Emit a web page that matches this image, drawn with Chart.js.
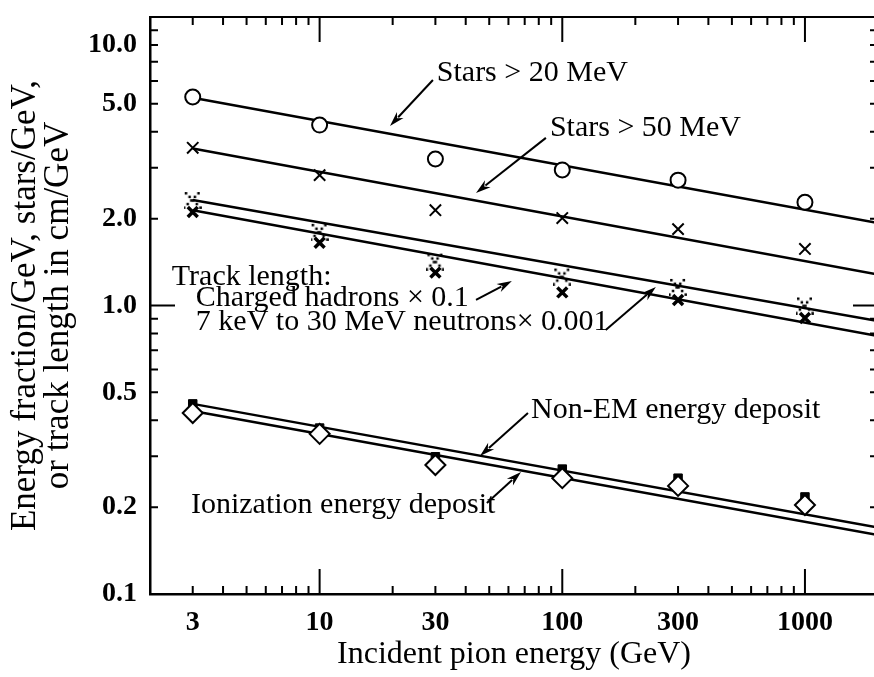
<!DOCTYPE html>
<html>
<head>
<meta charset="utf-8">
<script src="https://cdn.jsdelivr.net/npm/chart.js@4.4.1/dist/chart.umd.min.js"></script>
<style>
  html, body { margin: 0; padding: 0; background: #fff; overflow: hidden; }
  #wrap { width: 890px; height: 677px; }
</style>
</head>
<body>
<div id="wrap"><canvas id="chart" width="890" height="677"></canvas></div>
<script>
// incident pion energies (GeV)
const energies = [3, 10, 30, 100, 300, 1000];

// measured points
const stars20 = [5.28, 4.22, 3.22, 2.95, 2.72, 2.28];
const stars50 = [3.52, 2.83, 2.14, 2.01, 1.84, 1.57];
const neutrons = [2.32, 1.80, 1.42, 1.26, 1.16, 1.00];
const charged = [2.11, 1.65, 1.30, 1.11, 1.045, 0.905];
const nonEm = [0.456, 0.376, 0.299, 0.271, 0.252, 0.217];
const ionization = [0.424, 0.359, 0.280, 0.252, 0.237, 0.2035];

// power-law fits, drawn from 3 GeV to the edge
const fitEnergies = [3, 2000];
const stars20Fit = [5.25, 1.93];
const stars50Fit = [3.5, 1.28];
const neutronsFit = [2.32, 0.884];
const chargedFit = [2.14, 0.784];
const nonEmFit = [0.456, 0.170];
const ionizationFit = [0.4305, 0.160];

// axes
const xTickValues = [2, 3, 4, 5, 6, 7, 8, 9, 10, 20, 30, 40, 50, 60, 70, 80, 90,
                     100, 200, 300, 400, 500, 600, 700, 800, 900, 1000, 2000];
const xLabels = [3, 10, 30, 100, 300, 1000];
const yTickValues = [0.1, 0.2, 0.3, 0.4, 0.5, 0.6, 0.7, 0.8, 0.9,
                     1, 2, 3, 4, 5, 6, 7, 8, 9, 10];
const yLabels = [0.1, 0.2, 0.5, 1, 2, 5, 10];

// annotations in data coordinates [energy, value]
const notes = [
  {text: 'Stars > 20 MeV', at: [30.4, 6.39], from: [29.3, 6.05], to: [19.5, 4.19]},
  {text: 'Stars > 50 MeV', at: [88.9, 4.12], from: [85.6, 3.81], to: [44.1, 2.455]},
  {text: 'Track length:', at: [2.46, 1.256]},
  {text: 'Charged hadrons \u00d7 0.1', at: [3.09, 1.062], from: [44.1, 1.045], to: [62.0, 1.216]},
  {text: '7 keV to 30 MeV neutrons\u00d7 0.001', at: [3.09, 0.877], from: [151, 0.823], to: [243, 1.159]},
  {text: 'Non-EM energy deposit', at: [74.3, 0.4343], from: [72.2, 0.424], to: [45.8, 0.3008]},
  {text: 'Ionization energy deposit', at: [2.95, 0.2035], from: [48.9, 0.2068], to: [67.6, 0.2648]},
];

const serif = "'Liberation Serif', 'DejaVu Serif', serif";
const isDecade = v => Math.abs(Math.log10(v) - Math.round(Math.log10(v))) < 1e-9;
const pts = ys => energies.map((e, i) => ({x: e, y: ys[i]}));
const fit = ys => fitEnergies.map((e, i) => ({x: e, y: ys[i]}));

function dottedCross() {
  const c = document.createElement('canvas');
  c.width = c.height = 18;
  const g = c.getContext('2d');
  g.fillStyle = '#000';
  for (let i = 0; i < 5; i++) {
    const t = 1 + i * 3.6;
    g.fillRect(t, t, 2.5, 2.5);
    g.fillRect(14.5 - t, t, 2.5, 2.5);
  }
  return c;
}

const tickMarks = {
  id: 'tickMarks',
  afterDraw(chart) {
    const {ctx, chartArea: a, scales: {x, y}} = chart;
    ctx.save();
    ctx.strokeStyle = '#000';
    ctx.lineWidth = 2;
    ctx.beginPath();
    ctx.moveTo(a.left, a.top);
    ctx.lineTo(a.right, a.top);
    ctx.lineTo(a.right, a.bottom);
    xTickValues.forEach(v => {
      const px = x.getPixelForValue(v);
      const len = isDecade(v) ? 25 : 8;
      ctx.moveTo(px, a.bottom); ctx.lineTo(px, a.bottom - len);
      ctx.moveTo(px, a.top); ctx.lineTo(px, a.top + len);
    });
    yTickValues.forEach(v => {
      const py = y.getPixelForValue(v);
      const len = isDecade(v) ? 25 : 8;
      ctx.moveTo(a.left, py); ctx.lineTo(a.left + len, py);
      ctx.moveTo(a.right, py); ctx.lineTo(a.right - len, py);
    });
    ctx.stroke();
    // top label sits a little below the corner in the original
    ctx.fillStyle = '#000';
    ctx.font = 'bold 28px ' + serif;
    ctx.textAlign = 'right';
    ctx.textBaseline = 'middle';
    ctx.fillText('10.0', a.left - 13, y.getPixelForValue(10) + 28);
    ctx.restore();
  }
};

const annotations = {
  id: 'annotations',
  afterDatasetsDraw(chart) {
    const {ctx, scales: {x, y}} = chart;
    const px = p => [x.getPixelForValue(p[0]), y.getPixelForValue(p[1])];
    ctx.save();
    ctx.fillStyle = '#000';
    ctx.strokeStyle = '#000';
    ctx.font = '30px ' + serif;
    ctx.textAlign = 'left';
    ctx.textBaseline = 'middle';
    notes.forEach(n => {
      const [tx, ty] = px(n.at);
      ctx.fillText(n.text, tx, ty);
      if (!n.from) return;
      const [x0, y0] = px(n.from);
      const [x1, y1] = px(n.to);
      const ang = Math.atan2(y1 - y0, x1 - x0);
      const head = 15, half = 4.5;
      ctx.lineWidth = 2;
      ctx.beginPath();
      ctx.moveTo(x0, y0);
      ctx.lineTo(x1 - Math.cos(ang) * head * 0.8, y1 - Math.sin(ang) * head * 0.8);
      ctx.stroke();
      ctx.beginPath();
      ctx.moveTo(x1, y1);
      ctx.lineTo(x1 - Math.cos(ang) * head - Math.sin(ang) * half, y1 - Math.sin(ang) * head + Math.cos(ang) * half);
      ctx.lineTo(x1 - Math.cos(ang) * head * 0.7, y1 - Math.sin(ang) * head * 0.7);
      ctx.lineTo(x1 - Math.cos(ang) * head + Math.sin(ang) * half, y1 - Math.sin(ang) * head - Math.cos(ang) * half);
      ctx.closePath();
      ctx.fill();
    });
    ctx.restore();
  }
};

const fitStyle = {showLine: true, pointRadius: 0, borderColor: '#000', borderWidth: 2.5, order: 10};

new Chart(document.getElementById('chart'), {
  type: 'scatter',
  data: {
    datasets: [
      {label: 'Stars > 20 MeV fit', data: fit(stars20Fit), ...fitStyle},
      {label: 'Stars > 50 MeV fit', data: fit(stars50Fit), ...fitStyle},
      {label: 'Neutrons fit', data: fit(neutronsFit), ...fitStyle},
      {label: 'Charged hadrons fit', data: fit(chargedFit), ...fitStyle},
      {label: 'Non-EM fit', data: fit(nonEmFit), ...fitStyle},
      {label: 'Ionization fit', data: fit(ionizationFit), ...fitStyle},
      {label: 'Stars > 20 MeV', data: pts(stars20), pointStyle: 'circle', pointRadius: 7.5,
       borderColor: '#000', backgroundColor: '#fff', borderWidth: 2, order: 2},
      {label: 'Stars > 50 MeV', data: pts(stars50), pointStyle: 'crossRot', pointRadius: 8,
       borderColor: '#000', borderWidth: 2, order: 2},
      {label: 'Neutrons', data: pts(neutrons), pointStyle: dottedCross(), order: 2},
      {label: 'Charged hadrons', data: pts(charged), pointStyle: 'crossRot', pointRadius: 7,
       borderColor: '#000', borderWidth: 3.5, order: 2},
      {label: 'Non-EM energy deposit', data: pts(nonEm), pointStyle: 'rect', pointRadius: 6,
       borderColor: '#000', backgroundColor: '#000', borderWidth: 1, order: 3},
      {label: 'Ionization energy deposit', data: pts(ionization), pointStyle: 'rectRot', pointRadius: 10,
       borderColor: '#000', backgroundColor: '#fff', borderWidth: 2, order: 1},
    ]
  },
  options: {
    responsive: false,
    animation: false,
    layout: {padding: {top: 17, right: 2, left: 0, bottom: 0}},
    plugins: {legend: {display: false}, tooltip: {enabled: false}},
    scales: {
      x: {
        type: 'logarithmic',
        min: 2,
        max: 2000,
        afterBuildTicks: scale => { scale.ticks = xTickValues.map(v => ({value: v})); },
        afterFit: scale => { scale.height = 83; scale.paddingLeft = 0; scale.paddingRight = 0; },
        ticks: {
          autoSkip: false,
          maxRotation: 0,
          padding: 12,
          color: '#000',
          font: {family: serif, size: 28, weight: 'bold'},
          callback: v => xLabels.includes(v) ? String(v) : ''
        },
        grid: {display: false, drawTicks: false},
        border: {display: true, color: '#000', width: 2.5},
        title: {display: true, text: 'Incident pion energy (GeV)', color: '#000',
                font: {family: serif, size: 32}, padding: {top: 0, bottom: 3}}
      },
      y: {
        type: 'logarithmic',
        min: 0.1,
        max: 10,
        afterBuildTicks: scale => { scale.ticks = yTickValues.map(v => ({value: v})); },
        afterFit: scale => { scale.width = 150; scale.paddingTop = 0; scale.paddingBottom = 0; },
        ticks: {
          autoSkip: false,
          padding: 13,
          color: '#000',
          font: {family: serif, size: 28, weight: 'bold'},
          callback: v => (yLabels.includes(v) && v !== 10) ? v.toFixed(1) : ''
        },
        grid: {display: false, drawTicks: false},
        border: {display: true, color: '#000', width: 2.5},
        title: {display: true, text: ['Energy fraction/GeV, stars/GeV,', 'or track length in cm/GeV'],
                color: '#000', font: {family: serif, size: 35, lineHeight: 0.95}, padding: {top: 9, bottom: 0}}
      }
    }
  },
  plugins: [tickMarks, annotations]
});
</script>
</body>
</html>
